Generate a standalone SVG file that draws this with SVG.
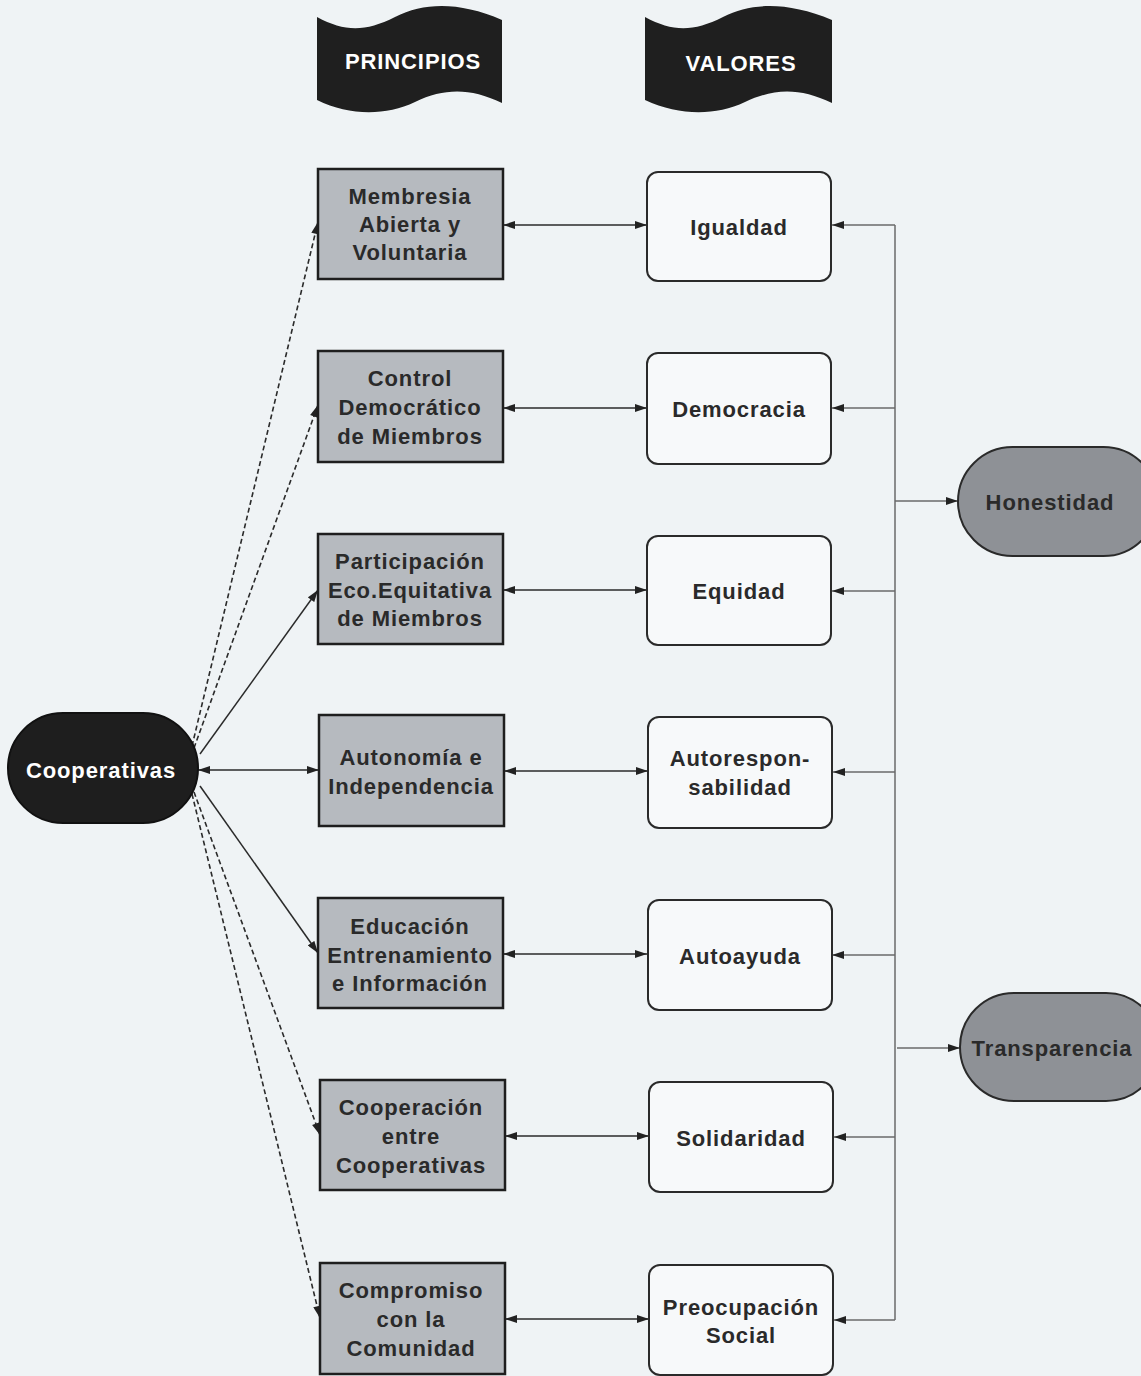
<svg xmlns="http://www.w3.org/2000/svg" width="1141" height="1376" viewBox="0 0 1141 1376">
<defs>
<marker id="ah" viewBox="0 0 12 8" refX="12" refY="4" markerWidth="13" markerHeight="8" markerUnits="userSpaceOnUse" orient="auto-start-reverse">
<path d="M0,0 L12,4 L0,8 Z" fill="#222"/>
</marker>
<style>
text{font-family:"Liberation Sans",Arial,sans-serif;font-weight:bold;font-size:22px;letter-spacing:0.9px;text-anchor:middle;}
.p{fill:#b6babf;stroke:#1e1e1e;stroke-width:2.5;}
.v{fill:#f7f9fa;stroke:#2a2a2a;stroke-width:2;}
.t{fill:#2a2a2a;}
.w{fill:#ffffff;}
.ban{fill:#1f1f1f;}
.c{stroke:#2a2a2a;stroke-width:1.5;fill:none;}
.d{stroke:#2a2a2a;stroke-width:1.6;fill:none;stroke-dasharray:5 3;}
.g{stroke:#6a6a6a;stroke-width:1.5;fill:none;}
</style>
</defs>
<rect width="1141" height="1376" fill="#eff3f5"/>

<g id="banner-principios">
<path class="ban" d="M317,17 C345,32 365,32 395,17 C425,2 460,2 502,20 L502,103 C470,88 445,88 415,102 C385,116 350,116 317,100 Z"/>
<text class="w" x="413" y="69">PRINCIPIOS</text>
</g>
<g id="banner-valores">
<path class="ban" d="M645,17 C673,32 693,32 723,17 C753,2 788,2 832,20 L832,103 C800,88 775,88 745,102 C715,116 680,116 645,100 Z"/>
<text class="w" x="741" y="71">VALORES</text>
</g>

<g id="connectors">
<line class="c" x1="503" y1="225" x2="647" y2="225" marker-start="url(#ah)" marker-end="url(#ah)"/>
<line class="c" x1="503" y1="408" x2="647" y2="408" marker-start="url(#ah)" marker-end="url(#ah)"/>
<line class="c" x1="503" y1="590" x2="647" y2="590" marker-start="url(#ah)" marker-end="url(#ah)"/>
<line class="c" x1="504" y1="771" x2="648" y2="771" marker-start="url(#ah)" marker-end="url(#ah)"/>
<line class="c" x1="503" y1="954" x2="647" y2="954" marker-start="url(#ah)" marker-end="url(#ah)"/>
<line class="c" x1="505" y1="1136" x2="649" y2="1136" marker-start="url(#ah)" marker-end="url(#ah)"/>
<line class="c" x1="505" y1="1319" x2="649" y2="1319" marker-start="url(#ah)" marker-end="url(#ah)"/>
<line class="d" x1="192" y1="746" x2="318" y2="222" marker-end="url(#ah)"/>
<line class="d" x1="194" y1="748" x2="318" y2="405" marker-end="url(#ah)"/>
<line class="c" x1="200" y1="754" x2="318" y2="590" marker-end="url(#ah)"/>
<line class="c" x1="198" y1="770" x2="319" y2="770" marker-start="url(#ah)" marker-end="url(#ah)"/>
<line class="c" x1="200" y1="786" x2="318" y2="953" marker-end="url(#ah)"/>
<line class="d" x1="194" y1="792" x2="320" y2="1135" marker-end="url(#ah)"/>
<line class="d" x1="192" y1="794" x2="320" y2="1318" marker-end="url(#ah)"/>
<line class="g" x1="895" y1="225" x2="895" y2="1320"/>
<line class="g" x1="895" y1="225" x2="832" y2="225" marker-end="url(#ah)"/>
<line class="g" x1="895" y1="408" x2="832" y2="408" marker-end="url(#ah)"/>
<line class="g" x1="895" y1="591" x2="832" y2="591" marker-end="url(#ah)"/>
<line class="g" x1="895" y1="772" x2="833" y2="772" marker-end="url(#ah)"/>
<line class="g" x1="895" y1="955" x2="832" y2="955" marker-end="url(#ah)"/>
<line class="g" x1="895" y1="1137" x2="834" y2="1137" marker-end="url(#ah)"/>
<line class="g" x1="895" y1="1320" x2="834" y2="1320" marker-end="url(#ah)"/>
<line class="g" x1="895" y1="501" x2="958" y2="501" marker-end="url(#ah)"/>
<line class="g" x1="897" y1="1048" x2="960" y2="1048" marker-end="url(#ah)"/>
</g>

<g id="cooperativas">
<rect x="8" y="713" width="190" height="110" rx="55" fill="#1e1e1e" stroke="#111" stroke-width="2"/>
<text class="w" x="101" y="778">Cooperativas</text>
</g>

<g id="p1"><rect class="p" x="318" y="169" width="185" height="110"/>
<text class="t" x="410" y="204">Membresia</text><text class="t" x="410" y="232">Abierta y</text><text class="t" x="410" y="260">Voluntaria</text></g>
<g id="p2"><rect class="p" x="318" y="351" width="185" height="111"/>
<text class="t" x="410" y="386">Control</text><text class="t" x="410" y="415">Democrático</text><text class="t" x="410" y="444">de Miembros</text></g>
<g id="p3"><rect class="p" x="318" y="534" width="185" height="110"/>
<text class="t" x="410" y="569">Participación</text><text class="t" x="410" y="598">Eco.Equitativa</text><text class="t" x="410" y="626">de Miembros</text></g>
<g id="p4"><rect class="p" x="319" y="715" width="185" height="111"/>
<text class="t" x="411" y="765">Autonomía  e</text><text class="t" x="411" y="794">Independencia</text></g>
<g id="p5"><rect class="p" x="318" y="898" width="185" height="110"/>
<text class="t" x="410" y="934">Educación</text><text class="t" x="410" y="963">Entrenamiento</text><text class="t" x="410" y="991">e Información</text></g>
<g id="p6"><rect class="p" x="320" y="1080" width="185" height="110"/>
<text class="t" x="411" y="1115">Cooperación</text><text class="t" x="411" y="1144">entre</text><text class="t" x="411" y="1173">Cooperativas</text></g>
<g id="p7"><rect class="p" x="320" y="1263" width="185" height="111"/>
<text class="t" x="411" y="1298">Compromiso</text><text class="t" x="411" y="1327">con la</text><text class="t" x="411" y="1356">Comunidad</text></g>

<g id="v1"><rect class="v" x="647" y="172" width="184" height="109" rx="11"/><text class="t" x="739" y="235">Igualdad</text></g>
<g id="v2"><rect class="v" x="647" y="353" width="184" height="111" rx="11"/><text class="t" x="739" y="417">Democracia</text></g>
<g id="v3"><rect class="v" x="647" y="536" width="184" height="109" rx="11"/><text class="t" x="739" y="599">Equidad</text></g>
<g id="v4"><rect class="v" x="648" y="717" width="184" height="111" rx="11"/><text class="t" x="740" y="766">Autorespon-</text><text class="t" x="740" y="795">sabilidad</text></g>
<g id="v5"><rect class="v" x="648" y="900" width="184" height="110" rx="11"/><text class="t" x="740" y="964">Autoayuda</text></g>
<g id="v6"><rect class="v" x="649" y="1082" width="184" height="110" rx="11"/><text class="t" x="741" y="1146">Solidaridad</text></g>
<g id="v7"><rect class="v" x="649" y="1265" width="184" height="110" rx="11"/><text class="t" x="741" y="1315">Preocupación</text><text class="t" x="741" y="1343">Social</text></g>

<g id="honestidad"><rect x="958" y="447" width="200" height="109" rx="54.5" fill="#8e9196" stroke="#2a2a2a" stroke-width="2"/><text class="t" x="1050" y="510">Honestidad</text></g>
<g id="transparencia"><rect x="960" y="993" width="200" height="108" rx="54" fill="#8e9196" stroke="#2a2a2a" stroke-width="2"/><text class="t" x="1052" y="1056">Transparencia</text></g>
</svg>
